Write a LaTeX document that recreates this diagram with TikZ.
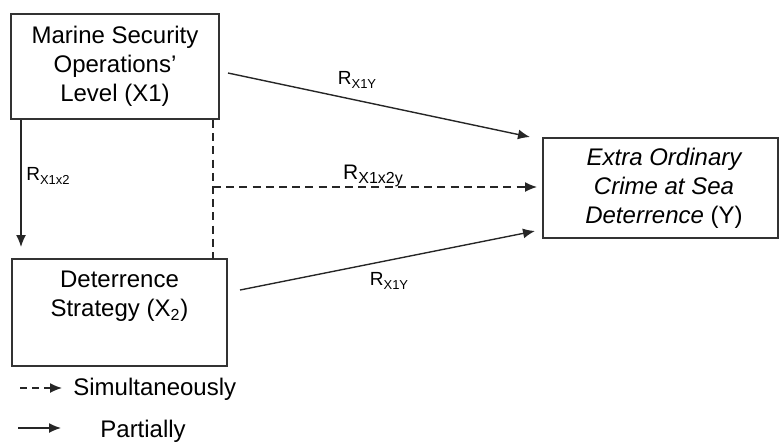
\documentclass[tikz,border=0pt]{standalone}
\usepackage{fontspec}
\setmainfont{Liberation Sans}
\usetikzlibrary{arrows.meta,calc}
\begin{document}
\begin{tikzpicture}[x=0.5pt,y=-0.5pt,
  box/.style={draw=black!80,line width=0.65pt,rectangle,inner sep=0pt},
  txt/.style={align=center,font=\fontsize{12}{14.5}\selectfont,inner sep=0pt},
  conn/.style={draw=black!85,line width=0.7pt,-{Latex[length=6pt,width=5pt]}},
  dconn/.style={conn,dash pattern=on 4pt off 2.6pt},
  lbl/.style={inner sep=0pt,font=\fontsize{9.5}{10}\selectfont}]
\useasboundingbox (0,0) rectangle (779,441);
% boxes
\node[box,minimum width=104pt,minimum height=52.5pt] (x1) at (115,66.5) {};
\node[txt] (x1t) at (115,66.5) {Marine Security\\Operations'\\Level (X1)};
\node[box,minimum width=107.5pt,minimum height=53.5pt] (x2) at (119.5,312.5) {};
\node[txt] (x2t) at (119.5,296.5) {Deterrence\\Strategy (X\textsubscript{2})};
\node[box,minimum width=117.5pt,minimum height=50pt] (y) at (660.5,188) {};
\node[txt] (yt) at (664,188.5) {\itshape Extra Ordinary\\\itshape Crime at Sea\\\itshape Deterrence\upshape{} (Y)};
% connector coordinates
\coordinate (a1s) at (228,73);
\coordinate (a1e) at (530,137);
\coordinate (a3s) at (240,290);
\coordinate (a3e) at (535,231);
\coordinate (vs) at (21,120);
\coordinate (ve) at (21,247);
\coordinate (ds) at (213,120);
\coordinate (dm) at (213,187);
\coordinate (de) at (213,259);
\coordinate (dh) at (537,187);
% connectors
\draw[conn] (a1s) -- (a1e);
\draw[conn] (a3s) -- (a3e);
\draw[conn] (vs) -- (ve);
\draw[draw=black!85,line width=0.7pt,dash pattern=on 4pt off 2.6pt] (ds) -- (de);
\draw[dconn] (dm) -- (dh);
% labels
\node[lbl] (l1) at (357,80) {R\raisebox{-2.2pt}{\fontsize{6.5}{7}\selectfont X1Y}};
\node[lbl] (l2) at (48,176) {R\raisebox{-2.2pt}{\fontsize{6.5}{7}\selectfont X1x2}};
\node[lbl,font=\fontsize{10.5}{11}\selectfont] (l3) at (373,176) {R\raisebox{-2.4pt}{\fontsize{8}{9}\selectfont X1x2y}};
\node[lbl] (l4) at (389,281) {R\raisebox{-2.2pt}{\fontsize{6.5}{7}\selectfont X1Y}};
% legend
\node[txt,anchor=west] (leg1) at (73,389) {Simultaneously};
\node[txt,anchor=west] (leg2) at (100,431) {Partially};
\coordinate (ls1) at (20,388);
\coordinate (le1) at (62,388);
\coordinate (ls2) at (18,428);
\coordinate (le2) at (61,428);
\draw[dconn,dash pattern=on 3.5pt off 2.5pt] (ls1) -- (le1);
\draw[conn] (ls2) -- (le2);
\end{tikzpicture}
\end{document}
